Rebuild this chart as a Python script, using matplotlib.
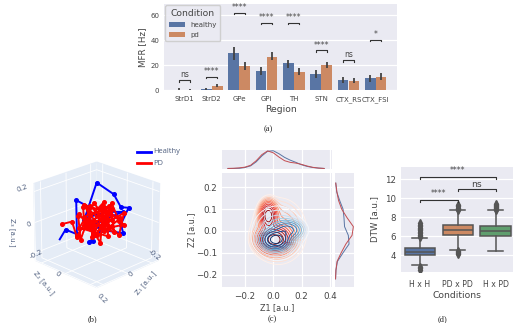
import matplotlib
matplotlib.use("Agg")
import matplotlib.pyplot as plt
from matplotlib.lines import Line2D
import numpy as np

W, H = 527, 323

# (a) firing rates
regions = ["StrD1", "StrD2", "GPe", "GPi", "TH", "STN", "CTX_RS", "CTX_FSI"]
mfr_healthy = [0.4, 0.9, 30, 15.5, 21.5, 13, 8, 9.5]
mfr_pd = [0.2, 3.8, 19.5, 27, 15, 20.5, 7.5, 10.5]
ci_healthy_lo = [0, 0, 24.5, 12, 17.5, 10, 6, 6.5]
ci_healthy_hi = [1.5, 1.6, 35, 19, 24.5, 16, 10.5, 12.5]
ci_pd_lo = [0, 2.5, 16, 24, 12, 18, 5.5, 8]
ci_pd_hi = [0.8, 5, 23, 30.5, 18, 22.5, 9.5, 13.5]
sig_levels = [8, 11, 62, 54, 54, 32, 24, 40.5]
sig_marks = ["ns", "****", "****", "****", "****", "****", "ns", "*"]

# (b) latent trajectories
h_z1 = [.15, .126, .08, .082, .03, .016, .03, -.02, .05, -.1, -.068, -.097, -.128, -.097, -.108, -.03, .05, -.05, -.12, .03, -.02]
h_z2 = [-.15, -.126, -.08, -.082, -.03, -.016, -.03, .02, -.05, -.1, .068, .097, .128, .097, .108, .03, -.05, .05, .09, -.03, .02]
h_z3 = [-.11, -.046, -.076, .145, .10, -.12, -.127, -.05, .02, .2, .183, .10, .096, -.013, -.07, -.05, .03, .07, .06, -.02, .01]
p_z1 = [.14, .09, .06, .11, .04, .02, .07, -.02, .05, .01, -.04, .03, -.06, -.02, .02, .06, -.03, -.08, -.05, .01, .04, -.01,
        -.07, -.11, -.09, -.04, .03, -.01, -.06, -.12, -.03, .02, .08, .05, .1, .03, -.02, .01, -.05, -.09, -.04, .02, .06,
        .01, -.03, -.13, -.07, .0, .05, -.02]
p_z2 = [-.14, -.11, -.1, -.05, -.06, -.09, -.02, -.04, .02, -.03, .03, -.07, .01, .05, .0, -.08, .06, .02, .07, .03, -.05, -.01,
        .05, .07, .1, .02, -.02, .06, .04, .1, .08, .01, -.06, -.1, -.03, -.04, .04, -.02, .09, .03, .01, .05, -.04,
        -.07, .02, .09, .11, -.05, -.01, .03]
p_z3 = [-.01, .0, -.11, -.07, -.02, .08, .12, -.06, .03, -.1, .07, .1, -.03, .04, .13, -.04, -.08, .09, .02, .06, -.03, -.09,
        .12, .0, .03, -.06, .05, .11, -.04, -.02, .08, -.07, .06, .03, -.09, .02, .14, -.01, -.05, .07, .1, -.11, .04,
        -.05, -.02, .05, -.07, .09, .0, .03]

# (c) latent density, blob centres and spreads
pd_cx = [0.005, -0.035, 0.04]
pd_cy = [-0.04, 0.07, 0.0]
pd_sx = [0.058, 0.03, 0.11]
pd_sy = [0.03, 0.032, 0.085]
pd_wt = [1.0, 0.75, 0.1]
h_cx = [0.02, 0.1, 0.03]
h_cy = [-0.04, 0.005, -0.01]
h_sx = [0.05, 0.055, 0.11]
h_sy = [0.022, 0.022, 0.075]
h_wt = [1.0, 0.4, 0.08]

top_x = [-.32, -.28, -.24, -.20, -.16, -.12, -.08, -.04, 0, .04, .08, .12, .16, .20, .24, .28, .32, .36]
top_pd = [0, .01, .03, .07, .17, .42, .75, .95, .85, .62, .42, .33, .29, .22, .13, .06, .02, 0]
top_h = [0, 0, .01, .05, .14, .36, .68, .93, .96, .8, .6, .45, .33, .2, .11, .05, .02, 0]
side_y = [-.22, -.18, -.14, -.1, -.06, -.02, .02, .06, .1, .14, .18, .22]
side_pd = [0, .02, .08, .3, .55, .88, .95, .62, .33, .16, .07, .01]
side_h = [0, .02, .1, .4, .72, .68, .48, .45, .4, .22, .06, .01]

# (d) DTW boxes
conditions = ["H x H", "PD x PD", "H x PD"]
q1 = [4.0, 6.15, 6.05]
med = [4.35, 6.6, 6.5]
q3 = [4.75, 7.2, 7.1]
whislo = [2.95, 4.55, 4.45]
whishi = [5.85, 8.75, 8.75]
fliers = [[2.45, 2.6, 2.75, 5.9, 6.0, 6.15, 6.3, 6.45, 6.6, 6.75, 6.9, 7.05, 7.2, 7.35],
          [4.1, 4.2, 4.35, 4.45, 8.8, 8.9, 9.0, 9.15, 9.3],
          [8.8, 8.9, 9.0, 9.1, 9.2, 9.3, 9.4]]
box_colors = ["#5975a4", "#cc8963", "#5f9e6e"]

BG = "#eaeaf2"
TXT = "#444444"
plt.rcParams["font.family"] = "DejaVu Sans"
plt.rcParams["axes.facecolor"] = BG
plt.rcParams["text.color"] = TXT
plt.rcParams["axes.labelcolor"] = TXT
plt.rcParams["xtick.color"] = TXT
plt.rcParams["ytick.color"] = TXT


def box(x0, y0, x1, y1, **kw):
    return fig.add_axes([x0 / W, 1 - y1 / H, (x1 - x0) / W, (y1 - y0) / H], **kw)


def style(ax, size):
    for s in ax.spines.values():
        s.set_visible(False)
    ax.grid(color="white", lw=0.9)
    ax.set_axisbelow(True)
    ax.tick_params(length=0, labelsize=size)


def ptext(x, y, s, **kw):
    kw.setdefault("ha", "center")
    kw.setdefault("va", "center")
    fig.text(x / W, 1 - y / H, s, **kw)


def bracket(ax, x0, x1, y, tip, label, size, gap):
    ax.plot([x0, x0, x1, x1], [y - tip, y, y, y - tip], color="#333333", lw=0.8, clip_on=False, zorder=5)
    ax.text((x0 + x1) / 2, y + gap, label, ha="center", va="bottom" if label == "ns" else "center",
            fontsize=size, clip_on=False)


fig = plt.figure(figsize=(W / 100, H / 100), dpi=100)

# panel a
ax = box(164, 4, 397, 90.3)
style(ax, 5)
pos = np.arange(len(regions))
b1 = ax.bar(pos - 0.2, mfr_healthy, 0.39, color=box_colors[0], label="healthy")
b2 = ax.bar(pos + 0.2, mfr_pd, 0.39, color=box_colors[1], label="pd")
ax.vlines(pos - 0.2, ci_healthy_lo, ci_healthy_hi, color="#424242", lw=1.3)
ax.vlines(pos + 0.2, ci_pd_lo, ci_pd_hi, color="#424242", lw=1.3)
ax.set_xlim(-0.75, 7.78)
ax.set_ylim(0, 69)
ax.set_xticks(pos, regions)
ax.set_yticks([0, 20, 40, 60])
ax.grid(False, axis="x")
ax.tick_params(axis="x", pad=4)
ax.set_xlabel("Region", fontsize=6.7, labelpad=1.5)
ax.set_ylabel("MFR [Hz]", fontsize=6.3, labelpad=2)
for i in range(len(regions)):
    bracket(ax, i - 0.2, i + 0.2, sig_levels[i], 1, sig_marks[i], 5.5, 0.8 if sig_marks[i] == "ns" else 4)
ax.legend(title="Condition", loc="upper left", fontsize=5, title_fontsize=6.6, borderaxespad=0.2,
          facecolor=BG, edgecolor="#cccccc", framealpha=0.9, labelspacing=0.55, handlelength=2.3, borderpad=0.5)

# panel b
ax3 = fig.add_axes([-0.037, -0.028, 0.43, 0.66], projection="3d", computed_zorder=False)
ax3.patch.set_alpha(0)
ax3.view_init(elev=23, azim=45)
ax3.set_xlim(-0.25, 0.25)
ax3.set_ylim(-0.25, 0.25)
ax3.set_zlim(-0.25, 0.25)
ax3.set_box_aspect((1, 1, 0.95), zoom=0.68)
for a in (ax3.xaxis, ax3.yaxis, ax3.zaxis):
    a.set_pane_color("#e5ecf6")
    a.line.set_color("white")
    a.line.set_linewidth(0.6)
    a._axinfo["grid"]["color"] = "white"
    a._axinfo["grid"]["linewidth"] = 0.6
    a.set_ticks([-0.2, 0, 0.2])
    a.set_ticklabels([])
    a._axinfo["tick"]["inward_factor"] = 0
    a._axinfo["tick"]["outward_factor"] = 0
ax3.plot(h_z1, h_z2, h_z3, color="#0000ff", lw=1.4, zorder=2)
ax3.plot(h_z1[1:], h_z2[1:], h_z3[1:], "o", color="#0000ff", ms=2.6, zorder=2)
ax3.plot(p_z1, p_z2, p_z3, "-o", color="#ff0000", lw=1.4, ms=2.6, zorder=3)

fig.add_artist(Line2D([137 / W, 151 / W], [1 - 151.5 / H] * 2, color="#0000ff", lw=2))
fig.add_artist(Line2D([137 / W, 151 / W], [1 - 163 / H] * 2, color="#ff0000", lw=2))
LEG = "#4f5f7f"
ptext(153.5, 151.5, "Healthy", ha="left", fontsize=5.4, color=LEG, family="Open Sans")
ptext(153.5, 163, "PD", ha="left", fontsize=5.4, color=LEG, family="Open Sans")
for x, y, s, r in [(22, 188, "0.2", 20), (29, 224, "0", 20), (36, 254, "-0.2", 25),
                   (58, 274, "0", -40), (102, 299, "0.2", -45),
                   (154, 255, "-0.2", -40), (131, 274, "0", 40)]:
    ptext(x, y, s, fontsize=5.2, rotation=r, color=LEG)
ptext(44, 283, "Z₂ [a.u.]", fontsize=5, rotation=-50, color=LEG)
ptext(146, 283, "Z₁ [a.u.]", fontsize=5, rotation=50, color=LEG)
ptext(12, 232, "Z₃ [a.u.]", fontsize=5, rotation=-90, color=LEG)

# panel c
axc = box(221.7, 173.3, 331.7, 286.7)
style(axc, 6.3)
gx, gy = np.meshgrid(np.linspace(-0.364, 0.413, 240), np.linspace(-0.256, 0.265, 240))


def density(cx, cy, sx, sy, wt):
    d = np.zeros_like(gx)
    for i in range(len(cx)):
        d = d + wt[i] * np.exp(-((gx - cx[i]) / sx[i]) ** 2 / 2 - ((gy - cy[i]) / sy[i]) ** 2 / 2)
    return d


dh = density(h_cx, h_cy, h_sx, h_sy, h_wt)
dp = density(pd_cx, pd_cy, pd_sx, pd_sy, pd_wt)
levels_h = np.geomspace(0.02, 0.8, 10)
levels_p = np.geomspace(0.02, 0.85, 12)
axc.contour(gx, gy, dp, levels=levels_p, colors=plt.cm.Reds(np.linspace(0.03, 1, 12)), linewidths=0.65)
axc.contour(gx, gy, dh, levels=levels_h, colors=plt.cm.Blues(np.linspace(0.03, 1, 10)), linewidths=0.65)
axc.set_xlim(-0.364, 0.413)
axc.set_ylim(-0.256, 0.265)
axc.set_xticks([-0.2, 0, 0.2, 0.4])
axc.set_yticks([-0.2, -0.1, 0, 0.1, 0.2])
axc.tick_params(axis="x", pad=4)
axc.tick_params(axis="y", pad=3)
axc.set_xlabel("Z1 [a.u.]", fontsize=5.8, labelpad=1)
axc.set_ylabel("Z2 [a.u.]", fontsize=5.8, labelpad=0)

axt = box(221.7, 150, 331.7, 169)
style(axt, 6)
axt.plot(top_x, top_h, color="#5975a4", lw=0.7)
axt.plot(top_x, top_pd, color="#c44e52", lw=0.7)
axt.set_xlim(-0.364, 0.413)
axt.set_ylim(-0.03, 1.0)
axt.set_xticks([-0.2, 0, 0.2, 0.4], [])
axt.set_yticks([])

axr = box(335, 173.3, 354.3, 286.7)
style(axr, 6)
axr.plot(side_h, side_y, color="#5975a4", lw=0.7)
axr.plot(side_pd, side_y, color="#c44e52", lw=0.7)
axr.set_ylim(-0.256, 0.265)
axr.set_xlim(-0.03, 1.0)
axr.set_yticks([-0.2, -0.1, 0, 0.1, 0.2], [])
axr.set_xticks([])

# panel d
axd = box(401, 166.7, 513.3, 271.7)
style(axd, 6.2)
stats = []
for i in range(3):
    stats.append({"q1": q1[i], "med": med[i], "q3": q3[i], "whislo": whislo[i], "whishi": whishi[i], "fliers": fliers[i]})
bp = axd.bxp(stats, positions=[0, 1, 2], widths=0.8, capwidths=0.4, patch_artist=True,
             boxprops=dict(edgecolor="#555555", lw=1.1),
             medianprops=dict(color="#555555", lw=1.1),
             whiskerprops=dict(color="#555555", lw=1.1),
             capprops=dict(color="#555555", lw=1.1),
             flierprops=dict(marker="d", ms=3.6, mfc="#555555", mec="#555555"))
for patch, c in zip(bp["boxes"], box_colors):
    patch.set_facecolor(c)
axd.set_xlim(-0.5, 2.47)
axd.set_ylim(2.24, 13.33)
axd.set_yticks([4, 6, 8, 10, 12])
axd.set_xticks([0, 1, 2], conditions)
axd.grid(False, axis="x")
axd.tick_params(axis="x", pad=6, labelsize=5.6)
axd.set_xlabel("Conditions", fontsize=6.6, labelpad=1.5)
axd.set_ylabel("DTW [a.u.]", fontsize=6.2, labelpad=4)
bracket(axd, 0, 2, 12.2, 0.2, "****", 5.5, 0.75)
bracket(axd, 1, 2, 10.95, 0.2, "ns", 6.6, 0.02)
bracket(axd, 0, 1, 9.8, 0.2, "****", 5.5, 0.75)

# captions
for x, y, s in [(268.7, 129, "(a)"), (92.5, 319, "(b)"), (272, 319, "(c)"), (443, 319, "(d)")]:
    ptext(x, y, s, fontsize=6, family="Liberation Serif", color="#222222")

fig.savefig("out.png", dpi=100)
